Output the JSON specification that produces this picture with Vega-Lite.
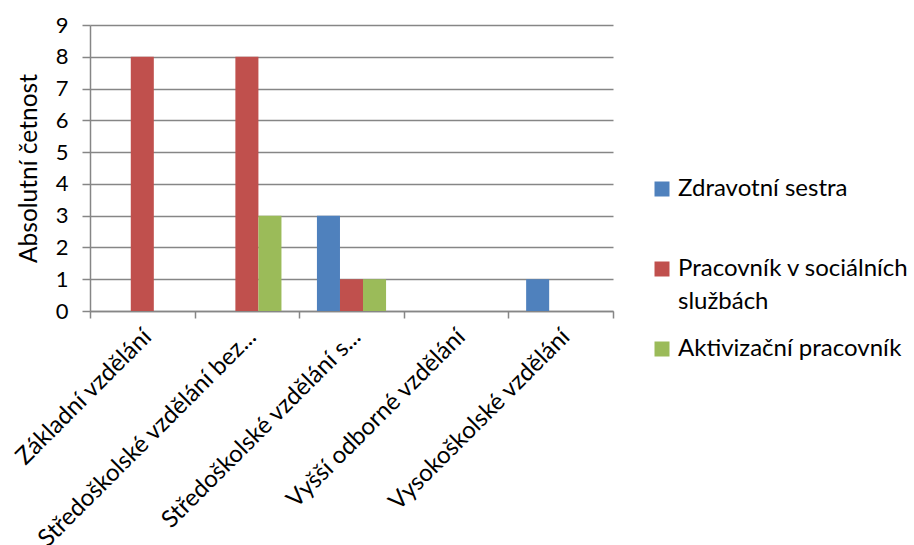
{
  "$schema": "https://vega.github.io/schema/vega-lite/v6.json",
  "width": 523,
  "height": 286,
  "autosize": "none",
  "padding": {"left": 90, "top": 25, "right": 301, "bottom": 234},
  "background": "white",
  "config": {
    "font": "Lato",
    "view": {"stroke": null},
    "axis": {"labelFont": "Lato", "titleFont": "Lato", "labelColor": "#000000", "titleColor": "#000000"}
  },
  "data": {
    "values": [
      {"vzdelani": "Základní vzdělání", "profese": "Zdravotní sestra", "cetnost": 0},
      {"vzdelani": "Základní vzdělání", "profese": "Pracovník v sociálních službách", "cetnost": 8},
      {"vzdelani": "Základní vzdělání", "profese": "Aktivizační pracovník", "cetnost": 0},
      {"vzdelani": "Středoškolské vzdělání bez...", "profese": "Zdravotní sestra", "cetnost": 0},
      {"vzdelani": "Středoškolské vzdělání bez...", "profese": "Pracovník v sociálních službách", "cetnost": 8},
      {"vzdelani": "Středoškolské vzdělání bez...", "profese": "Aktivizační pracovník", "cetnost": 3},
      {"vzdelani": "Středoškolské vzdělání s...", "profese": "Zdravotní sestra", "cetnost": 3},
      {"vzdelani": "Středoškolské vzdělání s...", "profese": "Pracovník v sociálních službách", "cetnost": 1},
      {"vzdelani": "Středoškolské vzdělání s...", "profese": "Aktivizační pracovník", "cetnost": 1},
      {"vzdelani": "Vyšší odborné vzdělání", "profese": "Zdravotní sestra", "cetnost": 0},
      {"vzdelani": "Vyšší odborné vzdělání", "profese": "Pracovník v sociálních službách", "cetnost": 0},
      {"vzdelani": "Vyšší odborné vzdělání", "profese": "Aktivizační pracovník", "cetnost": 0},
      {"vzdelani": "Vysokoškolské vzdělání", "profese": "Zdravotní sestra", "cetnost": 1},
      {"vzdelani": "Vysokoškolské vzdělání", "profese": "Pracovník v sociálních službách", "cetnost": 0},
      {"vzdelani": "Vysokoškolské vzdělání", "profese": "Aktivizační pracovník", "cetnost": 0}
    ]
  },
  "mark": {"type": "bar"},
  "encoding": {
    "x": {
      "field": "vzdelani",
      "type": "nominal",
      "sort": null,
      "scale": {"paddingInner": 0, "paddingOuter": 0},
      "axis": {
        "title": null,
        "labelAngle": -45,
        "labelAlign": "right",
        "labelBaseline": "alphabetic",
        "labelFontSize": 24,
        "labelPadding": 20,
        "labelOffset": 10,
        "labelLimit": 400,
        "labelOverlap": false,
        "tickBand": "extent",
        "tickSize": 7,
        "tickColor": "#868686",
        "domainColor": "#868686",
        "domainWidth": 1.5,
        "tickWidth": 1.5,
        "grid": false
      }
    },
    "xOffset": {
      "field": "profese",
      "type": "nominal",
      "sort": ["Zdravotní sestra", "Pracovník v sociálních službách", "Aktivizační pracovník"],
      "scale": {"paddingInner": 0, "paddingOuter": 0.77}
    },
    "y": {
      "field": "cetnost",
      "type": "quantitative",
      "scale": {"domain": [0, 9], "nice": false},
      "axis": {
        "title": "Absolutní četnost",
        "titleFontSize": 24.5,
        "titleFontWeight": "normal",
        "titlePadding": 14,
        "values": [0, 1, 2, 3, 4, 5, 6, 7, 8, 9],
        "labelOverlap": false,
        "labelFontSize": 22,
        "labelPadding": 14,
        "tickSize": 8,
        "tickColor": "#868686",
        "tickWidth": 1.5,
        "domainColor": "#868686",
        "domainWidth": 1.5,
        "gridColor": "#868686",
        "gridWidth": 1.5
      }
    },
    "color": {
      "field": "profese",
      "type": "nominal",
      "sort": ["Zdravotní sestra", "Pracovník v sociálních službách", "Aktivizační pracovník"],
      "scale": {
        "domain": ["Zdravotní sestra", "Pracovník v sociálních službách", "Aktivizační pracovník"],
        "range": ["#4F81BD", "#C0504D", "#9BBB59"]
      },
      "legend": {
        "title": null,
        "orient": "none",
        "legendX": 560,
        "legendY": 152,
        "padding": 0,
        "gridAlign": "all",
        "symbolType": "square",
        "symbolSize": 225,
        "symbolStrokeWidth": 0,
        "labelFont": "Lato",
        "labelFontSize": 24,
        "labelColor": "#000000",
        "labelLimit": 300,
        "labelOffset": 4,
        "rowPadding": 23,
        "labelExpr": "datum.label == 'Pracovník v sociálních službách' ? ['Pracovník v sociálních', 'službách'] : datum.label",
        "encode": {"labels": {"update": {"lineHeight": {"value": 33}}}}
      }
    }
  }
}
